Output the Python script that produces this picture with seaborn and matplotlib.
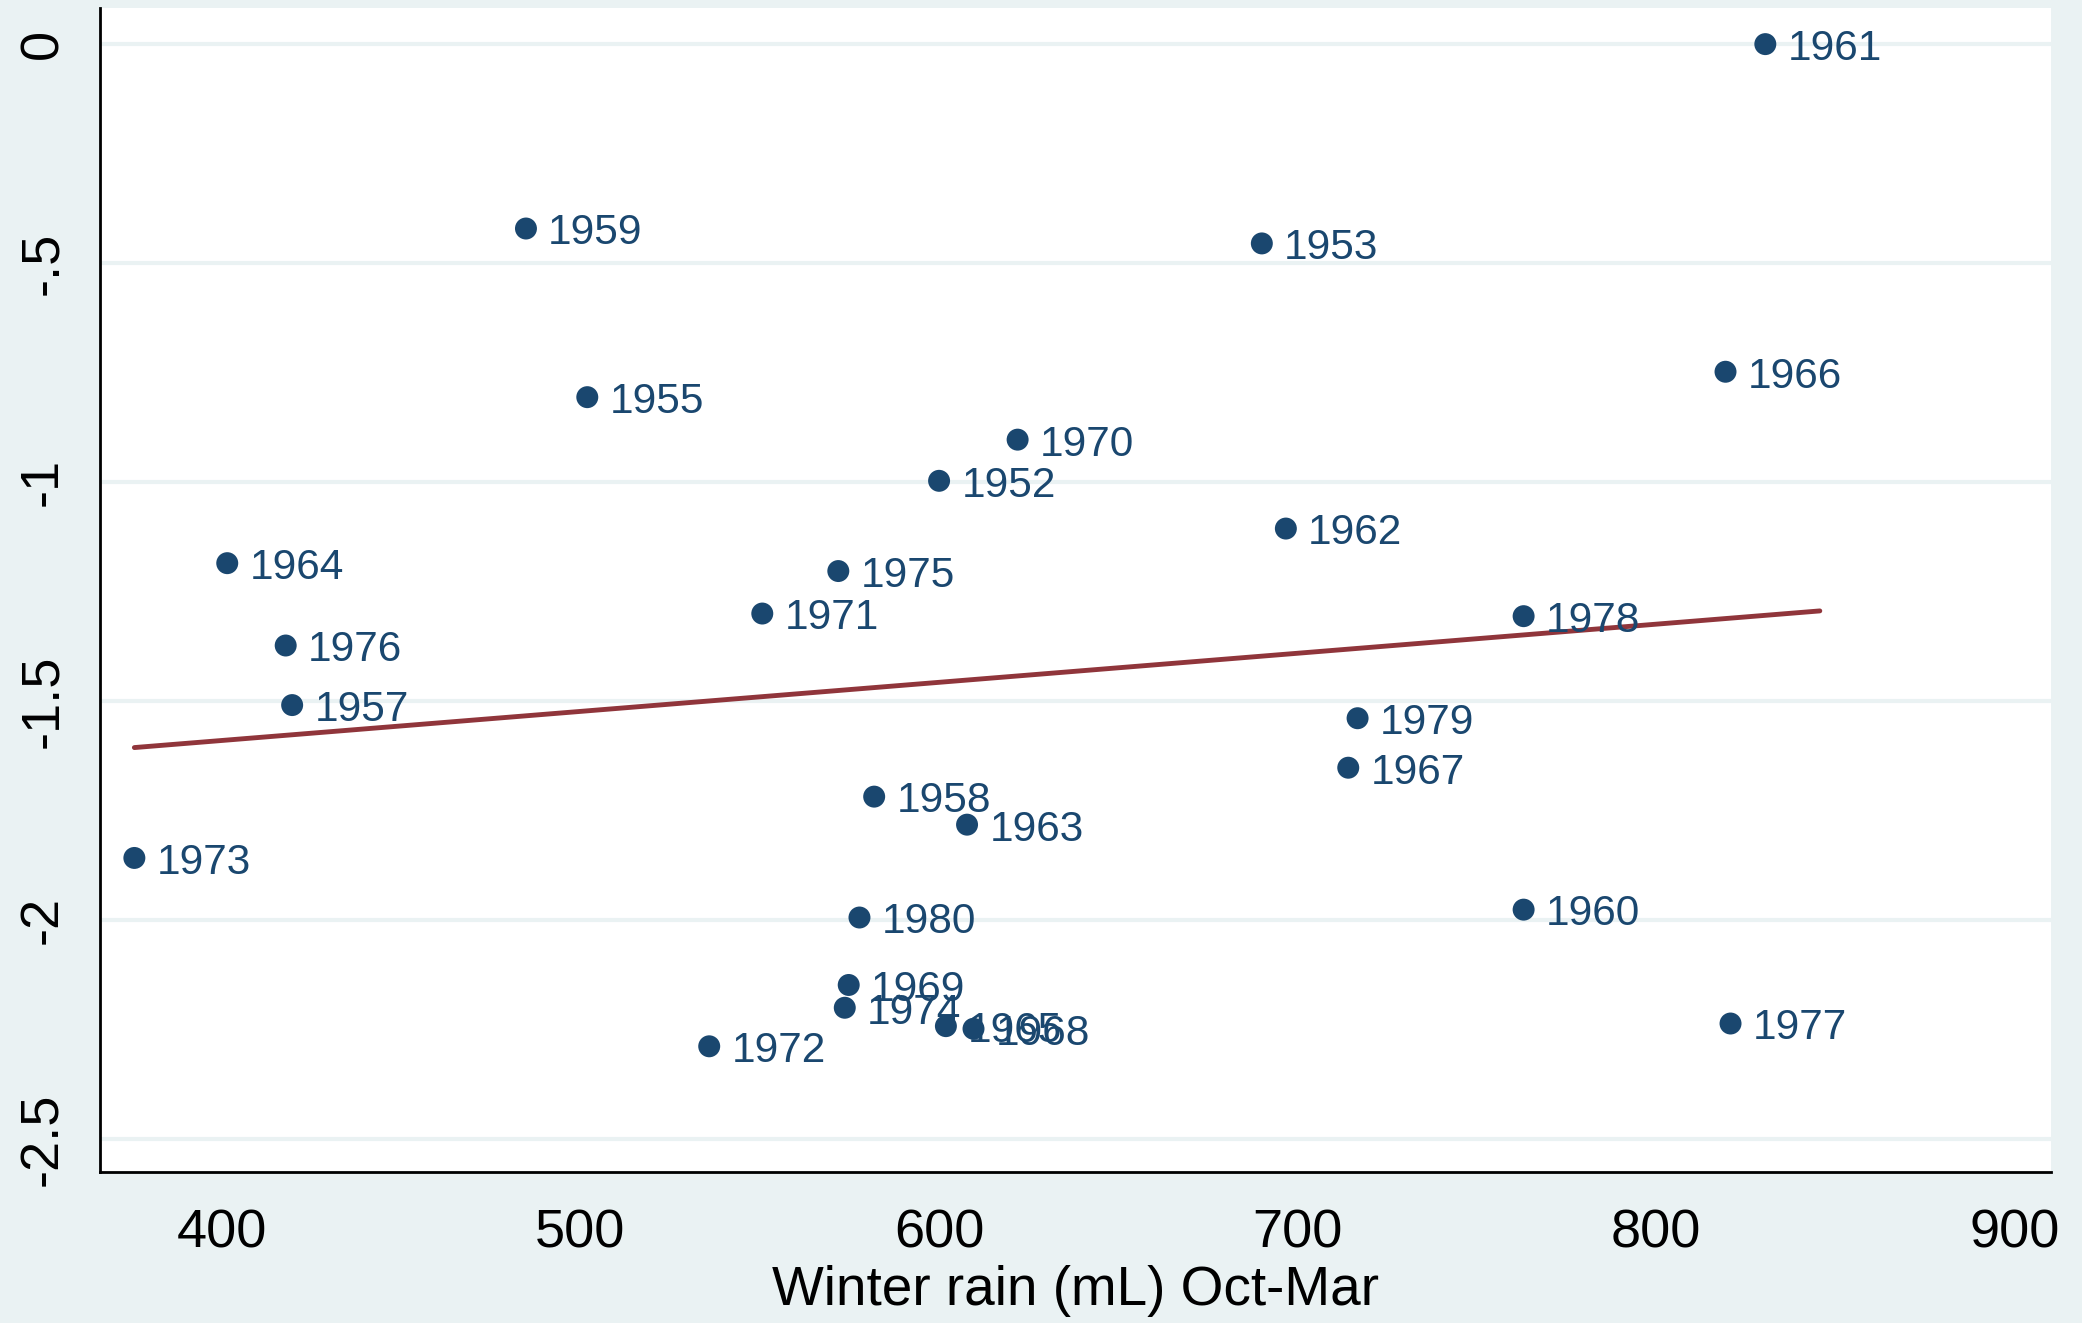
import pandas as pd
import matplotlib.pyplot as plt
import seaborn as sns

# Winter rain vs. (unlabelled) response, one point per year
years = [1961, 1959, 1953, 1966, 1955, 1970, 1952, 1962, 1964, 1975,
         1971, 1978, 1976, 1957, 1979, 1967, 1958, 1963, 1973, 1960,
         1980, 1969, 1974, 1965, 1968, 1977, 1972]
rain = [830.4, 484.8, 690.0, 819.3, 501.9, 621.9, 600.0, 696.7, 401.5, 571.9,
        550.7, 763.0, 417.8, 419.6, 716.7, 714.1, 581.9, 607.8, 375.6, 763.0,
        577.8, 574.8, 573.7, 601.9, 609.6, 820.7, 535.9]
resp = [0.0, -0.421, -0.455, -0.748, -0.806, -0.903, -0.997, -1.106, -1.185, -1.203,
        -1.300, -1.306, -1.373, -1.509, -1.539, -1.652, -1.718, -1.782, -1.858, -1.976,
        -1.994, -2.148, -2.200, -2.242, -2.248, -2.236, -2.288]

# linear fit line as drawn in the original
fit_x = [375.6, 845.6]
fit_y = [-1.606, -1.294]

xticks = [400, 500, 600, 700, 800, 900]
yticks = [0, -0.5, -1, -1.5, -2, -2.5]
ytick_labels = ['0', '-.5', '-1', '-1.5', '-2', '-2.5']

df = pd.DataFrame({'year': years, 'rain': rain, 'resp': resp})
fit = pd.DataFrame({'rain': fit_x, 'resp': fit_y})

navy = '#1a476f'
red = '#90353b'
bg = '#eaf2f3'

sns.set_style('white')
plt.rcParams['font.family'] = ['Liberation Sans', 'DejaVu Sans']
plt.rcParams['text.color'] = 'black'
plt.rcParams['xtick.color'] = 'black'
plt.rcParams['ytick.color'] = 'black'
plt.rcParams['axes.labelcolor'] = 'black'

fig = plt.figure(figsize=(20.82, 13.23), dpi=100, facecolor=bg)
ax = fig.add_axes([0.048, 0.1138, 0.937, 0.880])
ax.set_facecolor('white')

for t in yticks:
    ax.axhline(t, color=bg, lw=3, zorder=0)

sns.scatterplot(data=df, x='rain', y='resp', color=navy, s=250,
                edgecolor='none', ax=ax, zorder=3)
# year labels to the right of each point (overlaps as in the original)
for _, r in df.iterrows():
    ax.annotate(str(int(r['year'])), (r['rain'], r['resp']),
                xytext=(16, -3.5), textcoords='offset points',
                ha='left', va='center', fontsize=30.5, color=navy, zorder=4)

sns.lineplot(data=fit, x='rain', y='resp', color=red, lw=3.5, ax=ax,
             zorder=2, solid_capstyle='round')

ax.set_xlim(366, 910)
ax.set_ylim(-2.576, 0.082)
ax.set_xticks(xticks)
ax.set_yticks(yticks)
ax.set_yticklabels(ytick_labels, rotation=90, va='center')
ax.tick_params(axis='both', length=15, width=2, color='black',
               labelsize=39, direction='out')
ax.tick_params(axis='y', pad=8)
ax.tick_params(axis='x', pad=11)

for side in ['top', 'right']:
    ax.spines[side].set_visible(False)
for side in ['left', 'bottom']:
    ax.spines[side].set_color('black')
    ax.spines[side].set_linewidth(2)

ax.set_xlabel('Winter rain (mL) Oct-Mar', fontsize=39.5, labelpad=5)
ax.set_ylabel('')

fig.savefig('out.png', dpi=100, facecolor=bg)
